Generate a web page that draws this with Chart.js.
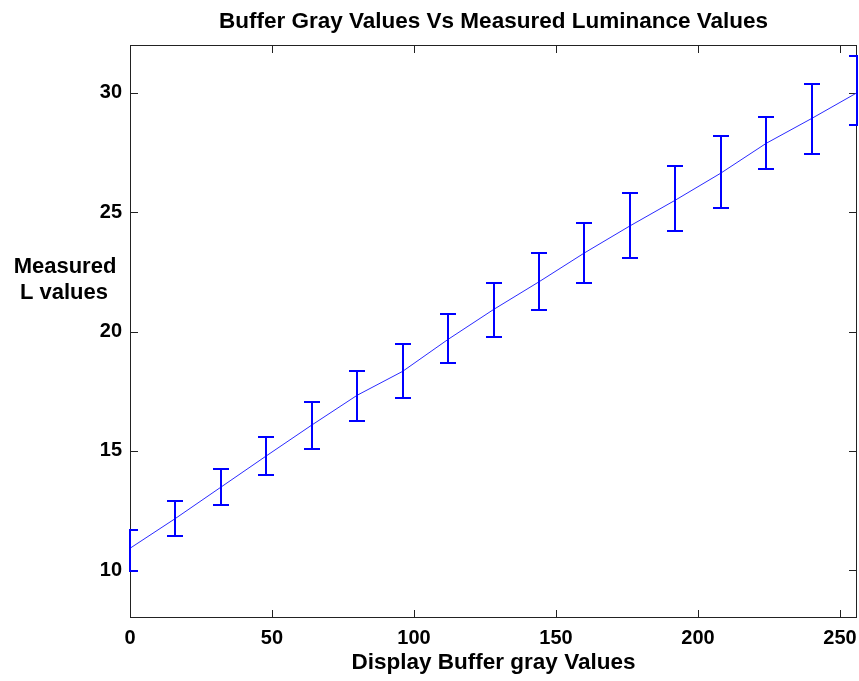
<!DOCTYPE html>
<html>
<head>
<meta charset="utf-8">
<script src="https://cdn.jsdelivr.net/npm/chart.js@4.4.0/dist/chart.umd.min.js"></script>
<style>
html, body { margin: 0; padding: 0; background: #fff; }
#wrap { width: 859px; height: 681px; }
</style>
</head>
<body>
<div id="wrap"><canvas id="lumChart" width="859" height="681"></canvas></div>
<script>
// display buffer gray levels and measured luminance (mean, upper, lower)
var grayValues = [0, 16, 32, 48, 64, 80, 96, 112, 128, 144, 160, 176, 192, 208, 224, 240, 256];
var meanL  = [10.92, 12.17, 13.48, 14.79, 16.08, 17.33, 18.33, 19.67, 20.92, 22.08, 23.29, 24.42, 25.5, 26.63, 27.88, 28.92, 30.0];
var upperL = [11.67, 12.92, 14.25, 15.58, 17.04, 18.33, 19.46, 20.75, 22.04, 23.29, 24.54, 25.79, 26.94, 28.17, 29.0, 30.38, 31.54];
var lowerL = [9.96, 11.42, 12.75, 14.0, 15.08, 16.25, 17.21, 18.67, 19.79, 20.92, 22.04, 23.08, 24.19, 25.17, 26.79, 27.42, 28.67];
var xTicks = [0, 50, 100, 150, 200, 250];
var yTicks = [10, 15, 20, 25, 30];

var FONT = '"Liberation Sans", Arial, sans-serif';
Chart.defaults.font.family = FONT;
Chart.defaults.color = '#000';

var tickFont = { family: FONT, size: 20, weight: 'bold' };
var titleFont = { family: FONT, size: 22.5, weight: 'bold' };

// axes box with inward ticks on all four sides (matlab style)
var boxPlugin = {
    id: 'boxPlugin',
    beforeDatasetsDraw: function(chart) {
        var ctx = chart.ctx;
        var a = chart.chartArea;
        var xs = chart.scales.x;
        var ys = chart.scales.y;
        var len = 8;
        ctx.save();
        ctx.strokeStyle = '#222';
        ctx.lineWidth = 1;
        ctx.strokeRect(a.left + 0.5, a.top + 0.5, a.right - a.left - 1, a.bottom - a.top - 1);
        ctx.beginPath();
        xTicks.forEach(function(v) {
            var px = Math.round(xs.getPixelForValue(v)) + 0.5;
            ctx.moveTo(px, a.bottom);
            ctx.lineTo(px, a.bottom - len);
            ctx.moveTo(px, a.top);
            ctx.lineTo(px, a.top + len);
        });
        yTicks.forEach(function(v) {
            var py = Math.round(ys.getPixelForValue(v)) + 0.5;
            ctx.moveTo(a.left, py);
            ctx.lineTo(a.left + len, py);
            ctx.moveTo(a.right, py);
            ctx.lineTo(a.right - len, py);
        });
        ctx.stroke();
        ctx.restore();
    }
};

// vertical error bars with caps
var errorBarPlugin = {
    id: 'errorBarPlugin',
    afterDatasetsDraw: function(chart) {
        var ctx = chart.ctx;
        var a = chart.chartArea;
        var xs = chart.scales.x;
        var ys = chart.scales.y;
        var cap = 8;
        ctx.save();
        ctx.beginPath();
        ctx.rect(a.left - 1, a.top - 1, a.right - a.left + 2, a.bottom - a.top + 2);
        ctx.clip();
        ctx.strokeStyle = '#0000ff';
        ctx.lineWidth = 2;
        ctx.beginPath();
        for (var i = 0; i < grayValues.length; i++) {
            var px = Math.round(xs.getPixelForValue(grayValues[i]));
            var yt = Math.round(ys.getPixelForValue(upperL[i]));
            var yb = Math.round(ys.getPixelForValue(lowerL[i]));
            ctx.moveTo(px, yt);
            ctx.lineTo(px, yb);
            ctx.moveTo(px - cap, yt);
            ctx.lineTo(px + cap, yt);
            ctx.moveTo(px - cap, yb);
            ctx.lineTo(px + cap, yb);
        }
        ctx.stroke();
        ctx.restore();
    }
};

// horizontal y axis label at the left
var yLabelPlugin = {
    id: 'yLabelPlugin',
    afterDraw: function(chart) {
        var ctx = chart.ctx;
        ctx.save();
        ctx.font = 'bold 22px ' + FONT;
        ctx.fillStyle = '#000';
        ctx.textAlign = 'center';
        ctx.textBaseline = 'middle';
        ctx.fillText('Measured', 65, 267);
        ctx.fillText('L values', 64, 293);
        ctx.restore();
    }
};

var lineData = grayValues.map(function(g, i) { return { x: g, y: meanL[i] }; });

var ctx = document.getElementById('lumChart').getContext('2d');
var lumChart = new Chart(ctx, {
    type: 'line',
    data: {
        datasets: [{
            data: lineData,
            borderColor: '#2a2aff',
            borderWidth: 1,
            pointRadius: 0,
            fill: false,
            tension: 0
        }]
    },
    options: {
        responsive: false,
        animation: false,
        layout: { padding: { left: 0, right: 2, top: 0, bottom: 0 } },
        plugins: {
            legend: { display: false },
            tooltip: { enabled: false },
            title: { display: false }
        },
        scales: {
            x: {
                type: 'linear',
                position: 'bottom',
                min: 0,
                max: 256,
                afterBuildTicks: function(s) { s.ticks = xTicks.map(function(v) { return { value: v }; }); },
                afterFit: function(s) { s.height = 63; s.paddingLeft = 0; s.paddingRight = 0; },
                grid: { display: false, drawTicks: false },
                border: { display: false },
                ticks: { font: tickFont, color: '#000', padding: 8, maxRotation: 0 },
                title: {
                    display: true,
                    text: 'Display Buffer gray Values',
                    font: titleFont,
                    color: '#000',
                    padding: { top: 0, bottom: 5 }
                }
            },
            xTop: {
                type: 'linear',
                position: 'top',
                min: 0,
                max: 256,
                afterFit: function(s) { s.height = 45; s.paddingLeft = 0; s.paddingRight = 0; },
                grid: { display: false, drawTicks: false },
                border: { display: false },
                ticks: { display: false },
                title: {
                    display: true,
                    text: 'Buffer Gray Values Vs Measured Luminance Values',
                    font: titleFont,
                    color: '#000',
                    padding: { top: 8, bottom: 0 }
                }
            },
            y: {
                type: 'linear',
                min: 8,
                max: 32,
                afterBuildTicks: function(s) { s.ticks = yTicks.map(function(v) { return { value: v }; }); },
                afterFit: function(s) { s.width = 130; s.paddingTop = 0; s.paddingBottom = 0; },
                grid: { display: false, drawTicks: false },
                border: { display: false },
                ticks: { font: tickFont, color: '#000', padding: 8 }
            }
        }
    },
    plugins: [boxPlugin, errorBarPlugin, yLabelPlugin]
});
</script>
</body>
</html>
